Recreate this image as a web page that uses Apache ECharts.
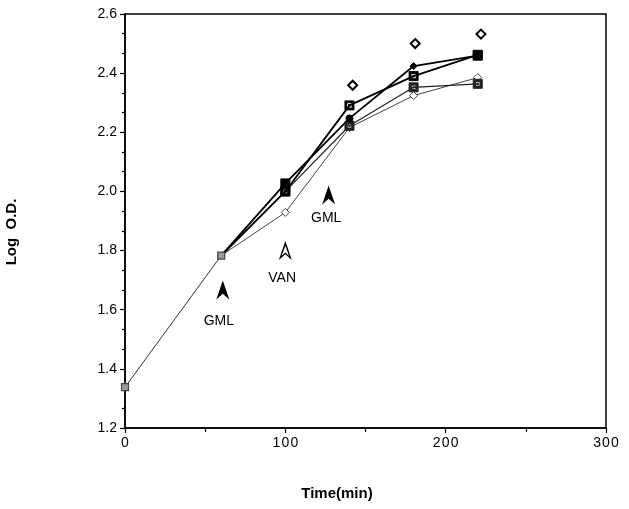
<!DOCTYPE html>
<html><head><meta charset="utf-8">
<script src="https://cdn.jsdelivr.net/npm/echarts@6/dist/echarts.min.js"></script>
<style>html,body{margin:0;padding:0;background:#fff}#c{width:629px;height:509px}</style>
</head><body><div id="c"></div>
<script>
// Data
const commonTimes = [0, 60];
const commonVals  = [1.338, 1.783];                               // shared start of all cultures
const times = [60, 100, 140, 180, 220];
const controlVals = [1.783, 2.027, 2.247, 2.424, 2.459];   // filled markers
const gml60Vals   = [1.783, 2.000, 2.291, 2.390, 2.462];   // open square with dot
const vanVals     = [1.783, 1.929, 2.216, 2.324, 2.385];   // open diamond
const gml130Vals  = [1.783, 2.000, 2.222, 2.352, 2.364];   // boxed square
const extraTimes  = [142, 181, 222];
const extraVals   = [2.359, 2.500, 2.532];                  // unconnected diamonds
const xTicks = [0, 100, 200, 300];
const yTicks = [1.2, 1.4, 1.6, 1.8, 2.0, 2.2, 2.4, 2.6];
const arrowX = [61, 100, 127];
const arrowY = [1.667, 1.80, 1.988];
const arrowFilled = [true, false, true];
const labelX = [58.5, 98, 125.5];
const labelY = [1.56, 1.708, 1.91];
const labelText = ['GML', 'VAN', 'GML'];
const xTitle = 'Time(min)';
const yTitle = 'Log  O.D.';

const FONT = '"Liberation Sans", Arial, Helvetica, sans-serif';
const pairs = (xs, ys) => xs.map((x, i) => [x, ys[i]]);
const sqDot = 'path://M0,0L10,0L10,10L0,10Z M2,2L2,8L8,8L8,2Z M4,4L6,4L6,6L4,6Z';
const sqBox = 'path://M0,0L10,0L10,10L0,10Z M2.5,2.5L2.5,7.5L7.5,7.5L7.5,2.5Z M4.2,4.2L5.8,4.2L5.8,5.8L4.2,5.8Z';
const arrowFill = 'path://M5,0L10,20L5,14L0,20Z';
const arrowOpen = 'path://M5,0L10,20L5,14L0,20Z M5,5L2.2,15.5L5,12L7.8,15.5Z';

const chart = echarts.init(document.getElementById('c'), null, {renderer: 'canvas'});
const hideFirst = (data) => data.map((p, i) => i === 0 ? {value: p, symbol: 'none'} : p);
const lineSeries = (name, data, symbol, size, width, color, fill) => ({
  name, type: 'line', data: hideFirst(data), symbol, symbolSize: size, showSymbol: true,
  lineStyle: {color, width}, itemStyle: {color: fill, borderColor: color, borderWidth: 1},
  animation: false, z: 3
});

chart.setOption({
  animation: false,
  grid: {left: 125, right: 23, top: 14, bottom: 81, show: true, borderColor: '#000', borderWidth: 1.5, backgroundColor: 'transparent'},
  graphic: [
    {type: 'text', x: 337, y: 494, style: {text: xTitle, font: 'bold 15px ' + FONT, fill: '#000', textAlign: 'center', textVerticalAlign: 'middle'}},
    {type: 'text', x: 12, y: 232, rotation: Math.PI / 2, style: {text: yTitle, font: 'bold 15px ' + FONT, fill: '#000', textAlign: 'center', textVerticalAlign: 'middle'}}
  ],
  xAxis: {
    type: 'value', min: 0, max: 300, interval: 100,
    axisLine: {show: true, lineStyle: {color: '#000', width: 1.5}},
    axisTick: {show: true, length: 5, lineStyle: {color: '#000', width: 1.2}},
    minorTick: {show: true, splitNumber: 2, length: 4, lineStyle: {color: '#000', width: 1.2}},
    splitLine: {show: false},
    axisLabel: {color: '#000', fontFamily: FONT, fontSize: 14, margin: 8,
      formatter: v => String(v).split('').join('\u200A')}
  },
  yAxis: {
    type: 'value', min: 1.2, max: 2.6, interval: 0.2,
    axisLine: {show: true, lineStyle: {color: '#000', width: 1.5}},
    axisTick: {show: true, length: 5, lineStyle: {color: '#000', width: 1.2}},
    minorTick: {show: true, splitNumber: 3, length: 3, lineStyle: {color: '#000', width: 1.2}},
    splitLine: {show: false},
    axisLabel: {color: '#000', fontFamily: FONT, fontSize: 14, margin: 8, formatter: v => v.toFixed(1)}
  },
  series: [
    {type: 'line', data: pairs(commonTimes, commonVals), symbol: 'rect', symbolSize: 7,
      lineStyle: {color: '#333', width: 1}, itemStyle: {color: '#999', borderColor: '#444', borderWidth: 1.2},
      animation: false, z: 5},
    lineSeries('van', pairs(times, vanVals), 'diamond', 8, 1, '#444', '#fff'),
    lineSeries('gml130', pairs(times, gml130Vals), sqBox, 9, 1.2, '#222', '#222'),
    lineSeries('gml60', pairs(times, gml60Vals), sqDot, 9, 1.8, '#000', '#000'),
    Object.assign(lineSeries('control', pairs(times, controlVals), 'circle', 7, 1.8, '#000', '#000'), {
      data: pairs(times, controlVals).map((p, i) => i === 0 ? {value: p, symbol: 'none'} :
        ({value: p, symbol: (i === 1 || i === 4) ? 'rect' : (i === 3 ? 'diamond' : 'circle'), symbolSize: (i === 1 || i === 4) ? 9 : 7}))
    }),
    {type: 'scatter', data: pairs(extraTimes, extraVals), symbol: 'diamond', symbolSize: 9,
      itemStyle: {color: '#fff', borderColor: '#000', borderWidth: 2, opacity: 1}, animation: false, z: 4},
    {type: 'scatter', data: arrowX.map((x, i) => ({value: [x, arrowY[i]], symbol: arrowFilled[i] ? arrowFill : arrowOpen})),
      symbolSize: [13, 19], itemStyle: {color: '#000', opacity: 1}, animation: false, z: 4},
    {type: 'scatter', data: pairs(labelX, labelY).map((p, i) => ({value: p, name: labelText[i]})),
      symbolSize: 1, itemStyle: {color: 'rgba(0,0,0,0)'},
      label: {show: true, position: 'inside', formatter: p => p.name, color: '#000', opacity: 1, fontFamily: FONT, fontSize: 14},
      animation: false, z: 4}
  ]
});
</script></body></html>
